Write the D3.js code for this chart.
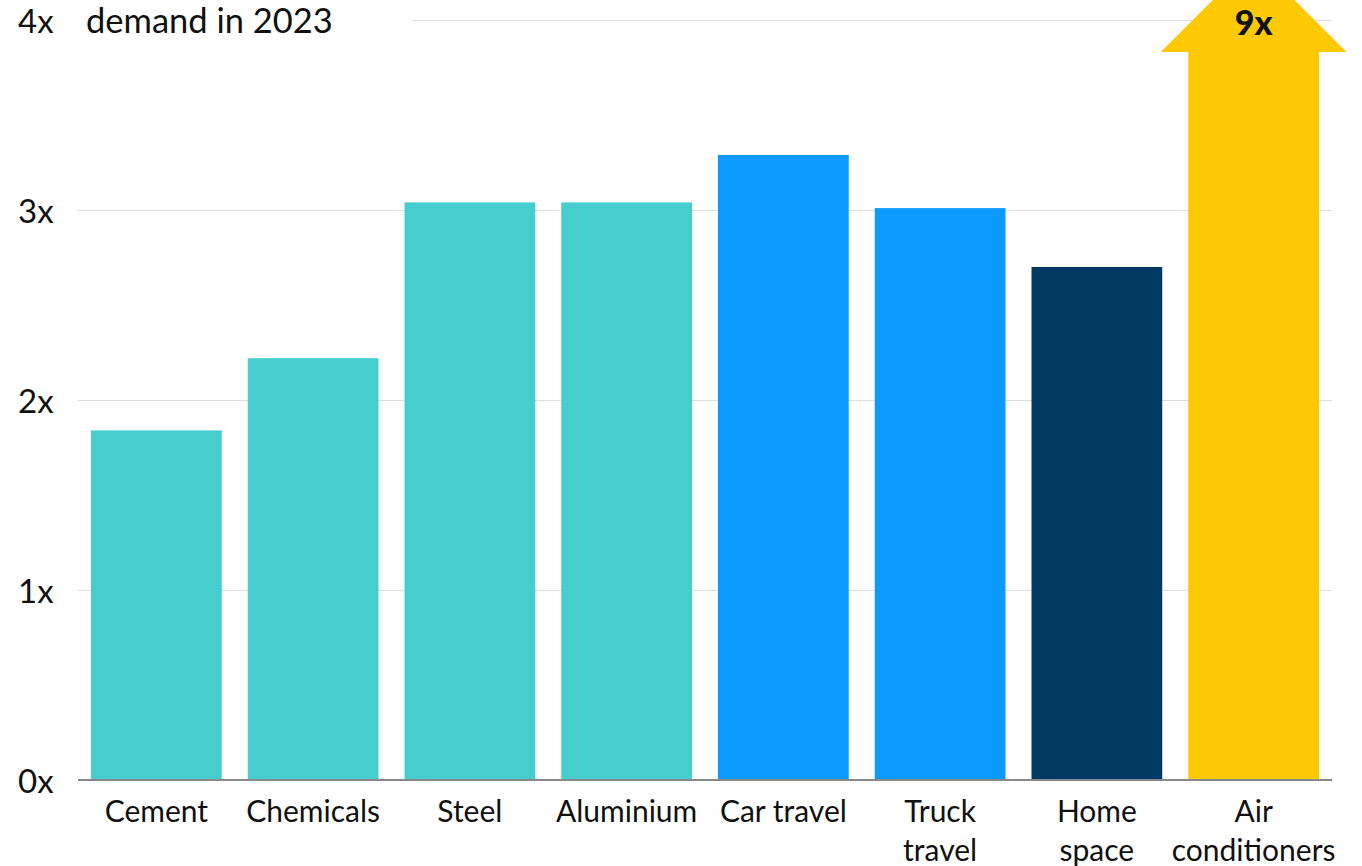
<!DOCTYPE html>
<html>
<head>
<meta charset="utf-8">
<script src="https://cdn.jsdelivr.net/npm/d3@7"></script>
<style>
  html, body { margin: 0; padding: 0; background: #fff; }
  svg { display: block; }
  text { font-family: "Lato", "Noto Sans", sans-serif; fill: #111; }
</style>
</head>
<body>
<svg id="chart" width="1362" height="866"></svg>
<script>
// Growth multiple of each activity relative to its demand in 2023
const categories = ["Cement", "Chemicals", "Steel", "Aluminium", "Car travel", "Truck\ntravel", "Home\nspace", "Air\nconditioners"];
const values = [1.84, 2.22, 3.04, 3.04, 3.29, 3.01, 2.70, 9];
const groups = ["industry", "industry", "industry", "industry", "transport", "transport", "buildings", "cooling"];
const yTicks = [0, 1, 2, 3, 4];
const yTickLabels = ["0x", "1x", "2x", "3x", "4x"];
const subtitle = "demand in 2023";

const colors = {
  industry: "#46cecf",
  transport: "#0c9aff",
  buildings: "#033a63",
  cooling: "#fec902"
};

const W = 1362, H = 866;
const margin = { left: 78, right: 30, top: 20, bottom: 86 };
const yMax = 4;

const svg = d3.select("#chart");

const x = d3.scaleBand()
  .domain(categories)
  .range([margin.left, W - margin.right])
  .paddingInner(0.166)
  .paddingOuter(0.083);

const y = d3.scaleLinear()
  .domain([0, yMax])
  .range([H - margin.bottom, margin.top]);

// Gridlines
const grid = svg.append("g")
  .attr("transform", `translate(${margin.left},0)`)
  .call(d3.axisLeft(y).tickValues(yTicks.slice(1)).tickSize(-(W - margin.left - margin.right)).tickFormat(""));
grid.select(".domain").remove();
grid.selectAll("line").attr("stroke", "#dedede").attr("stroke-width", 1);

// Y tick labels
svg.append("g").selectAll("text")
  .data(yTicks)
  .join("text")
  .attr("x", 18)
  .attr("y", d => y(d))
  .attr("dy", "0.4em")
  .style("font-size", "33px")
  .text((d, i) => yTickLabels[i]);

// Subtitle sits on a white panel over the top gridline
const sub = svg.append("g");
sub.append("rect")
  .attr("x", margin.left)
  .attr("y", 0)
  .attr("width", 335)
  .attr("height", 40)
  .attr("fill", "#fff");
sub.append("text")
  .attr("x", 86)
  .attr("y", 33)
  .style("font-size", "34.5px")
  .text(subtitle);

const data = categories.map((c, i) => ({ c, v: values[i], g: groups[i] }));
const inRange = data.filter(d => d.v <= yMax);
const beyond = data.filter(d => d.v > yMax);

// Bars within the axis range
svg.append("g").selectAll("rect")
  .data(inRange)
  .join("rect")
  .attr("x", d => x(d.c))
  .attr("y", d => y(d.v))
  .attr("width", x.bandwidth())
  .attr("height", d => y(0) - y(d.v))
  .attr("fill", d => colors[d.g]);

// Values beyond the axis are drawn as an arrow running off the top
const arrows = svg.append("g").selectAll("g")
  .data(beyond)
  .join("g");
arrows.append("path")
  .attr("fill", d => colors[d.g])
  .attr("d", d => {
    const x0 = x(d.c), bw = x.bandwidth(), cx = x0 + bw / 2;
    const headHalf = bw * 0.71;
    const base = y(yMax) + 32;
    const tip = base - headHalf;
    return `M${x0},${y(0)}L${x0},${base}L${cx - headHalf},${base}L${cx},${tip}` +
           `L${cx + headHalf},${base}L${x0 + bw},${base}L${x0 + bw},${y(0)}Z`;
  });
arrows.append("text")
  .attr("x", d => x(d.c) + x.bandwidth() / 2)
  .attr("y", 35)
  .attr("text-anchor", "middle")
  .style("font-size", "34px")
  .style("font-weight", "900")
  .text(d => d.v + "x");

// Baseline axis
svg.append("line")
  .attr("x1", margin.left)
  .attr("x2", W - margin.right)
  .attr("y1", y(0))
  .attr("y2", y(0))
  .attr("stroke", "#888")
  .attr("stroke-width", 2);

// Category labels, wrapped on explicit breaks
const labels = svg.append("g").selectAll("text")
  .data(categories)
  .join("text")
  .attr("text-anchor", "middle")
  .style("font-size", "30px");
labels.each(function(c) {
  const t = d3.select(this);
  c.split("\n").forEach((line, i) => {
    t.append("tspan")
      .attr("x", x(c) + x.bandwidth() / 2)
      .attr("y", 822 + i * 39)
      .text(line);
  });
});
</script>
</body>
</html>
